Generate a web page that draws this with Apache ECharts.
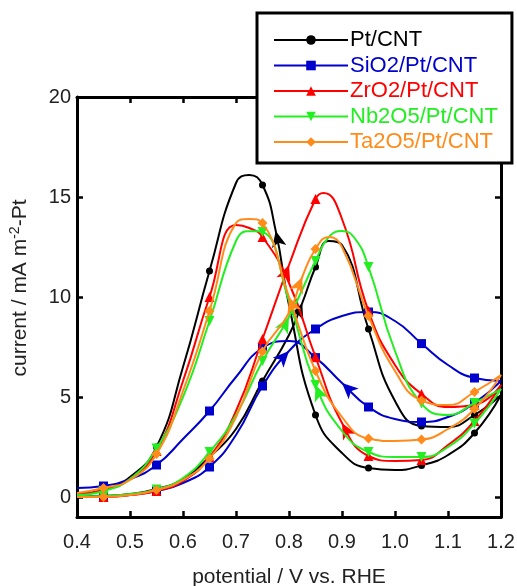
<!DOCTYPE html>
<html><head><meta charset="utf-8">
<script src="https://cdn.jsdelivr.net/npm/echarts@6/dist/echarts.min.js"></script>
<style>html,body{margin:0;padding:0;background:#fff}#c{width:517px;height:586px}</style>
</head><body><div id="c"></div>
<script>
// ---- data ----
const names = ['Pt/CNT','SiO2/Pt/CNT','ZrO2/Pt/CNT','Nb2O5/Pt/CNT','Ta2O5/Pt/CNT'];
const xTicks = [0.4,0.5,0.6,0.7,0.8,0.9,1.0,1.1,1.2];
const yTicks = [0,5,10,15,20];

const ptFwdX = [0.40,0.45,0.50,0.55,0.60,0.65,0.70,0.75,0.80,0.825,0.85,0.875,0.90,0.95,1.00,1.05,1.10,1.15,1.20];
const ptFwdY = [0.0,0.05,0.15,0.4,0.9,2.0,3.4,5.8,8.1,9.7,11.5,12.8,12.6,8.4,4.8,3.55,3.5,4.1,5.1];
const ptBwdX = [1.20,1.15,1.10,1.05,1.00,0.95,0.90,0.85,0.80,0.775,0.75,0.725,0.70,0.65,0.60,0.55,0.50,0.45,0.40];
const ptBwdY = [5.1,3.2,2.1,1.58,1.35,1.45,2.2,4.1,9.6,13.3,15.6,16.1,15.7,11.3,6.5,2.5,1.0,0.35,0.15];

const siFwdX = [0.40,0.45,0.50,0.55,0.60,0.65,0.70,0.75,0.80,0.85,0.90,0.95,1.00,1.05,1.10,1.15,1.20];
const siFwdY = [0.0,0.02,0.1,0.3,0.7,1.5,3.1,5.55,7.3,8.4,9.05,9.25,8.8,7.67,6.6,5.95,5.8];
const siBwdX = [1.20,1.15,1.10,1.05,1.00,0.95,0.90,0.85,0.80,0.75,0.70,0.65,0.60,0.55,0.50,0.45,0.40];
const siBwdY = [5.8,4.7,4.0,3.75,3.9,4.5,5.7,6.97,7.8,7.45,6.0,4.3,2.9,1.6,0.9,0.55,0.45];

const zrFwdX = [0.40,0.45,0.50,0.55,0.60,0.65,0.70,0.75,0.80,0.85,0.865,0.90,0.95,1.00,1.05,1.10,1.15,1.20];
const zrFwdY = [0.0,0.0,0.1,0.3,0.8,2.0,4.3,7.9,11.6,14.9,15.2,13.9,9.3,6.6,5.15,4.5,4.6,5.6];
const zrBwdX = [1.20,1.15,1.10,1.05,1.00,0.95,0.90,0.85,0.80,0.75,0.725,0.70,0.65,0.60,0.55,0.50,0.45,0.40];
const zrBwdY = [5.6,3.8,2.6,1.85,1.8,2.05,3.7,7.0,10.7,13.0,13.45,13.6,10.0,5.8,2.3,0.9,0.35,0.15];

const nbFwdX = [0.40,0.45,0.50,0.55,0.60,0.65,0.70,0.75,0.80,0.85,0.875,0.90,0.925,0.95,1.00,1.05,1.10,1.15,1.20];
const nbFwdY = [0.0,0.05,0.15,0.38,0.95,2.25,4.1,6.8,9.0,11.8,13.0,13.3,12.9,11.5,7.3,4.67,4.1,4.7,5.4];
const nbBwdX = [1.20,1.15,1.10,1.05,1.00,0.95,0.90,0.85,0.80,0.75,0.725,0.70,0.65,0.60,0.55,0.50,0.45,0.40];
const nbBwdY = [5.4,3.67,2.5,2.0,2.0,2.25,3.3,5.6,9.8,13.25,13.3,12.8,8.8,5.0,2.42,0.9,0.3,0.1];

const taFwdX = [0.40,0.45,0.50,0.55,0.60,0.65,0.70,0.75,0.80,0.825,0.85,0.875,0.90,0.95,1.00,1.05,1.10,1.15,1.20];
const taFwdY = [0.0,0.0,0.1,0.35,0.85,1.93,4.0,7.28,9.2,11.0,12.4,13.0,12.5,9.05,6.3,4.83,4.6,5.25,6.1];
const taBwdX = [1.20,1.15,1.10,1.05,1.00,0.95,0.90,0.85,0.80,0.75,0.725,0.70,0.65,0.60,0.55,0.50,0.45,0.40];
const taBwdY = [6.1,4.4,3.4,2.87,2.8,2.92,4.0,6.3,10.0,13.7,13.9,13.7,9.3,5.3,2.15,0.85,0.45,0.2];

// arrow positions (x value of a data point on each branch)
const arrowFwd = [0.825, 0.80, 0.80, 0.80, 0.825];
const arrowBwd = [0.775, 0.90, 0.90, 0.85, 0.80];

// ---- style ----
const colors = ['#000000','#0000CC','#FF0000','#22EE22','#FF8C1A'];
const symbols = ['circle','rect','triangle','path://M0,0 L10,0 L5,9 Z','diamond'];
const symSizes = [7,9,10,10,10];
const branches = [
  [ptFwdX,ptFwdY,ptBwdX,ptBwdY],
  [siFwdX,siFwdY,siBwdX,siBwdY],
  [zrFwdX,zrFwdY,zrBwdX,zrBwdY],
  [nbFwdX,nbFwdY,nbBwdX,nbBwdY],
  [taFwdX,taFwdY,taBwdX,taBwdY]
];

function isMarker(x){ const k = x*20; return Math.abs(k-Math.round(k))<1e-6 && Math.round(k)%2===1; }
function items(xs, ys){
  return xs.map((x,i)=> isMarker(x) ? {value:[x,ys[i]]} : {value:[x,ys[i]], symbol:'none'});
}

const series = [];
branches.forEach((b,k)=>{
  [[b[0],b[1]],[b[2],b[3]]].forEach(([xs,ys])=>{
    series.push({
      name: names[k], type:'line', data: items(xs,ys),
      smooth: 0.5,
      symbol: symbols[k], symbolSize: symSizes[k], showSymbol: true, showAllSymbol: true,
      lineStyle: {color: colors[k], width: 2},
      itemStyle: {color: colors[k]},
      z: 2 + k, animation: false, silent: true
    });
  });
});

const font = 'Arial, "Liberation Sans", Helvetica, sans-serif';
const axisCommon = {
  type:'value', splitLine:{show:false},
  axisLine:{show:true, onZero:false, lineStyle:{color:'#000', width:3}},
  axisTick:{show:true, inside:true, length:6, lineStyle:{color:'#000', width:2.5}}
};

const option = {
  animation: false,
  backgroundColor: '#fff',
  grid: {left:77, right:16, top:97, bottom:69, containLabel:false, outerBoundsMode:'none'},
  legend: {
    data: names.map((n,k)=>({name:n, textStyle:{color:colors[k]}})),
    orient:'vertical', left:257, top:13,
    itemWidth:74, itemHeight:12, itemGap:3.5,
    padding:[16,14,10,16],
    borderColor:'#000', borderWidth:3, backgroundColor:'#fff',
    textStyle:{fontSize:22, fontFamily:font, padding:[0,0,0,-3]},
    selectedMode:false, z: 20
  },
  xAxis: [
    Object.assign({}, axisCommon, {
      position:'bottom', min:0.4, max:1.2, interval:0.1,
      axisLabel:{fontSize:20, color:'#222', fontFamily:font, margin:15, formatter: v=>v.toFixed(1)},
      name:'potential / V vs. RHE', nameLocation:'middle', nameGap:50,
      nameTextStyle:{fontSize:21, color:'#222', fontFamily:font}
    }),
    Object.assign({}, axisCommon, {
      position:'top', min:0.4, max:1.2, interval:0.1, axisLabel:{show:false}
    })
  ],
  yAxis: [
    Object.assign({}, axisCommon, {
      position:'left', min:-1, max:20,
      axisTick:{show:true, inside:true, length:6, lineStyle:{color:'#000', width:2.5}, customValues: yTicks},
      axisLabel:{fontSize:20, color:'#222', fontFamily:font, margin:6, customValues: yTicks},
      name:'{n|current / mA m}{s|-2}{n|-Pt}', nameLocation:'middle', nameGap:45, nameRotate:90,
      nameTextStyle:{color:'#222', fontFamily:font, padding:[0,0,0,38], rich:{
        n:{fontSize:21, color:'#222', fontFamily:font},
        s:{fontSize:14, color:'#222', fontFamily:font, padding:[0,0,10,0]}
      }}
    }),
    Object.assign({}, axisCommon, {
      position:'right', min:-1, max:20,
      axisTick:{show:true, inside:true, length:6, lineStyle:{color:'#000', width:2.5}, customValues: yTicks},
      axisLabel:{show:false}
    })
  ],
  series: series
};

const chart = echarts.init(document.getElementById('c'), null, {renderer:'canvas'});
chart.setOption(option);

// arrows: direction from neighbouring data points in pixel space
const arrowSeries = [];
branches.forEach((b,k)=>{
  [[b[0],b[1],arrowFwd[k]],[b[2],b[3],arrowBwd[k]]].forEach(([xs,ys,ax])=>{
    const i = xs.findIndex(x=>Math.abs(x-ax)<1e-9);
    if (i<1 || i>=xs.length-1) return;
    const p0 = chart.convertToPixel({xAxisIndex:0,yAxisIndex:0},[xs[i-1],ys[i-1]]);
    const p1 = chart.convertToPixel({xAxisIndex:0,yAxisIndex:0},[xs[i+1],ys[i+1]]);
    const dx = p1[0]-p0[0], dy = p1[1]-p0[1];
    const rot = Math.atan2(-dx,-dy)*180/Math.PI;
    arrowSeries.push({
      type:'scatter', data:[[xs[i],ys[i]]], symbol:'arrow', symbolSize:[11,16],
      symbolRotate: rot, itemStyle:{color:colors[k], opacity:1}, z: 2+k, silent:true, animation:false
    });
  });
});
chart.setOption({series: series.concat(arrowSeries)});
</script>
</body></html>
